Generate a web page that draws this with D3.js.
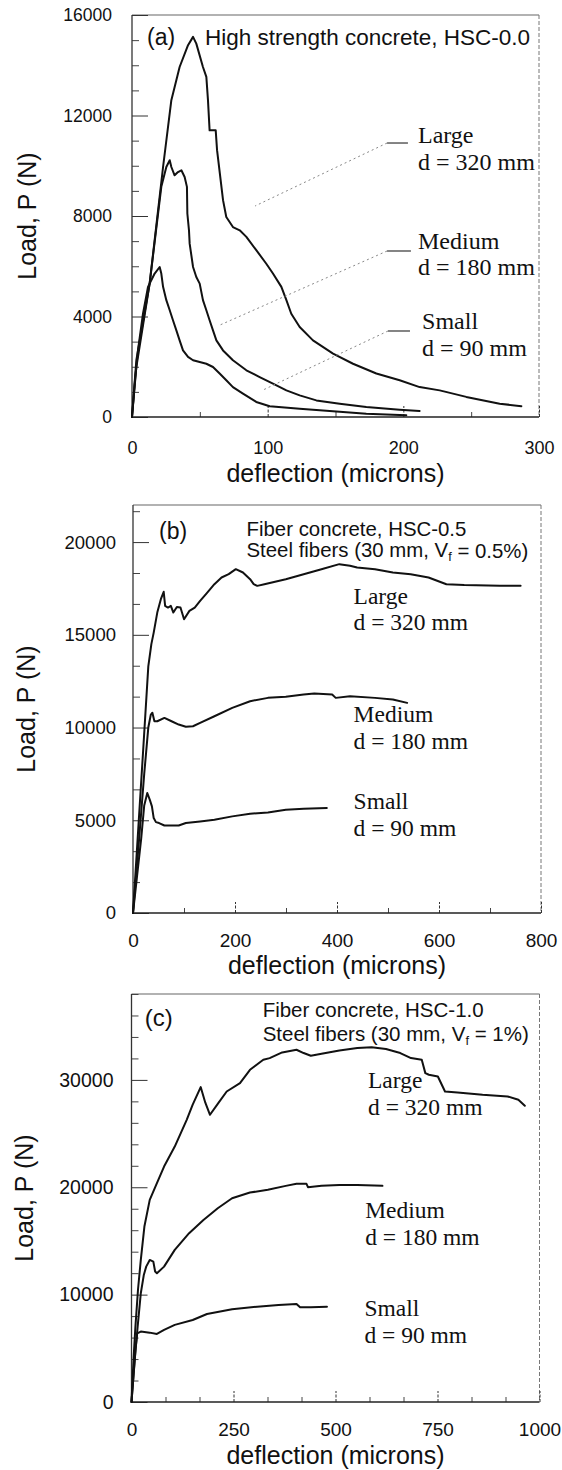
<!DOCTYPE html>
<html><head><meta charset="utf-8">
<script src="https://cdn.jsdelivr.net/npm/d3@7"></script>
<style>body{margin:0;background:#fff}svg{display:block}</style>
</head><body>
<svg id="chart" width="562" height="1470"></svg>
<script>
// ---------- DATA (deflection in microns, load in N) ----------
// Panel (a) High strength concrete, HSC-0.0
const aLarge = [[0,0],[3.2,2260],[13,5310],[22.9,9950],[29,12610],[35.1,13930],[41.3,14800],[45,15130],[47.4,14860],[52.3,13930],[54.8,13540],[56,12610],[57.2,11410],[61.7,11410],[62.7,10620],[67.1,8630],[69.5,7960],[74.4,7560],[79.4,7430],[84.3,7170],[91.6,6640],[99,6100],[103.9,5710],[110.1,5180],[113.8,4650],[117.4,4110],[123.6,3580],[133.4,3050],[148.2,2520],[162.9,2120],[180.1,1730],[197.3,1460],[212,1190],[226.8,1060],[246.4,800],[271,530],[287,430]];
const aMedium = [[0,0],[3.2,1990],[13,5310],[21.6,9160],[25.3,9950],[27.8,10220],[29,9950],[31.4,9620],[33.9,9750],[36.4,9820],[38.8,9550],[40.5,9160],[40.8,8100],[42,7430],[42.5,6900],[45,5970],[47.4,5570],[49.9,5310],[52.3,4650],[54.8,4250],[57.2,3850],[59.7,3450],[62.2,3050],[67.1,2650],[74.4,2260],[84.3,1860],[94.1,1590],[103.9,1330],[113.8,1060],[123.6,860],[135.9,660],[153.1,530],[172.7,400],[197.3,290],[212,240]];
const aSmall = [[0,0],[2,1330],[4.4,2650],[8.1,4110],[11.8,5180],[16.7,5710],[20.4,5970],[21.6,5710],[22.9,5180],[25.3,4650],[27.8,4250],[30.2,3850],[32.7,3450],[35.1,3050],[37.6,2650],[41.3,2390],[45,2260],[49.9,2190],[54.8,2120],[59.7,1990],[64.6,1730],[69.5,1460],[74.4,1190],[81.8,930],[91.6,600],[101.5,430],[123.6,330],[148.2,230],[172.7,130],[202.2,70]];
// Panel (b) Fiber concrete, HSC-0.5
const bLarge = [[0,0],[10,4400],[19.6,8630],[30,13300],[36,14500],[40.6,15120],[47.6,16200],[54.6,16920],[60.2,17320],[63,16560],[68.6,16470],[74.2,16560],[79.1,16200],[86,16500],[93.1,16470],[100.1,15840],[110.6,16290],[121.1,16470],[131.6,16830],[145.6,17280],[159.6,17730],[173.6,18090],[187.6,18270],[201.6,18540],[215.6,18360],[229.6,18000],[236.6,17730],[243.6,17640],[257.6,17730],[299.6,18000],[334.6,18270],[369.5,18540],[404.5,18810],[425.5,18720],[439.5,18630],[474.5,18540],[509.5,18360],[544.5,18270],[579.5,18090],[614.5,17730],[649.5,17680],[719.5,17640],[760,17640]];
const bMedium = [[0,0],[12,4000],[22,7500],[30,10000],[35,10700],[38,10800],[42,10340],[47.6,10340],[61.6,10520],[75.6,10340],[89.6,10160],[103.6,10040],[117.6,10070],[131.6,10250],[159.6,10610],[194.6,11060],[229.6,11420],[264.6,11600],[299.6,11660],[334.6,11780],[355.5,11840],[390.5,11780],[397.5,11600],[425.5,11690],[474.5,11600],[509.5,11510],[537.5,11330]];
const bSmall = [[0,0],[8,2000],[16,4000],[22,5800],[28,6470],[33,6100],[37.1,5750],[40.6,5120],[45,4900],[51.1,4850],[61.6,4720],[89.6,4720],[103.6,4850],[131.6,4940],[159.6,5030],[194.6,5210],[229.6,5350],[264.6,5420],[299.6,5570],[334.6,5620],[380,5660]];
// Panel (c) Fiber concrete, HSC-1.0
const cLarge = [[0,0],[5,4000],[9.6,7020],[16,10500],[22.8,13230],[31.6,16340],[44.7,18830],[62.3,20380],[79.8,21930],[106,23790],[135.3,26280],[150,27700],[169.6,29330],[180.7,27900],[192.4,26750],[212.7,27840],[233.3,28920],[265.9,29700],[290.4,30940],[323,31870],[338.6,32030],[369.3,32560],[404.4,32810],[421.9,32500],[439.5,32250],[465.8,32430],[509.6,32740],[553.5,32960],[588.6,33050],[623.7,32870],[658.8,32500],[685,32030],[711.4,31870],[720.2,30630],[728.9,30480],[750.9,30320],[768.4,28920],[799.1,28830],[860.5,28610],[921.9,28460],[948.2,28150],[964,27590]];
const cMedium = [[0,0],[8,4000],[15,7000],[22.8,10130],[30,11800],[36,12610],[44.7,13230],[53.5,13080],[57.9,12150],[62.3,11990],[79.8,12610],[106,14170],[141.2,15720],[176.3,16960],[211.4,18050],[246.5,18980],[290.3,19510],[334.2,19760],[378.1,20130],[404.4,20320],[428.9,20320],[432.5,20010],[465.8,20130],[509.6,20220],[553.5,20220],[615,20130]];
const cSmall = [[0,0],[5,2500],[10,5000],[14,6400],[22.8,6560],[44.7,6460],[62.3,6340],[79.8,6710],[106,7180],[150,7640],[185,8200],[246.5,8640],[307.9,8880],[360.5,9040],[404.4,9130],[413.2,8820],[439.5,8820],[479,8880]];

// ---------- TICKS ----------
const aXTicks = [0,100,200,300], aYTicks = [0,4000,8000,12000,16000];
const bXTicks = [0,200,400,600,800], bYTicks = [0,5000,10000,15000,20000];
const cXTicks = [0,250,500,750,1000], cYTicks = [0,10000,20000,30000];

// ---------- TEXT ----------
const sizeNames = ["Large","Medium","Small"];
const sizeDepths = ["d = 320 mm","d = 180 mm","d = 90 mm"];
const xTitle = "deflection (microns)";
const yTitle = "Load, P (N)";
const aTitle = "High strength concrete, HSC-0.0";
const bTitle = ["Fiber concrete, HSC-0.5", "Steel fibers (30 mm, V", "f", " = 0.5%)"];
const cTitle = ["Fiber concrete, HSC-1.0", "Steel fibers (30 mm, V", "f", " = 1%)"];
// label anchor positions in data units (x, y of first line, y of second line)
const aLabelPos = [[210.8,11224,10149],[210.8,7005,5970],[213.8,3821,2746]];
const bLabelPos = [[432.5,17081,15676],[432.5,10703,9243],[432.5,6000,4595]];
const cLabelPos = [[579.7,30009,27493],[572.7,17894,15377],[571,8760,6244]];
// leader lines panel (a): [label-side x0, x1, y, curve-end x, curve-end y]
const aLeaders = [[188,203.4,10905,90.7,8398],[188,205.6,6607,64.9,3662],[188.7,204.9,3423,96.6,1075]];

const SANS = "'Liberation Sans', Arial, Helvetica, sans-serif";
const SERIF = "'Liberation Serif', 'Times New Roman', serif";
const INK = "#111";
const svg = d3.select("#chart");

function drawPanel(p) {
  const x = d3.scaleLinear().domain(p.xDomain).range([p.left, p.right]);
  const y = d3.scaleLinear().domain(p.yDomain).range([p.bottom, p.top]);
  const g = svg.append("g");

  // top & right frame (light, scanned look)
  g.append("line").attr("x1", p.left).attr("x2", p.right).attr("y1", p.top).attr("y2", p.top)
    .attr("stroke", "#666").attr("stroke-width", 1.1);
  g.append("line").attr("x1", p.right).attr("x2", p.right).attr("y1", p.top).attr("y2", p.bottom)
    .attr("stroke", "#777").attr("stroke-width", 1).attr("stroke-dasharray", "4,2");

  // minor ticks
  const yMinor = d3.range(p.yDomain[0], p.yDomain[1] + 1e-6, p.yMinorStep).filter(v => !p.yTicks.some(t => Math.abs(t - v) < 1));
  const xMinor = d3.range(p.xDomain[0], p.xDomain[1] + 1e-6, p.xMinorStep).filter(v => !p.xTicks.some(t => Math.abs(t - v) < 0.5));
  g.append("g").attr("transform", `translate(${p.left},0)`)
    .call(d3.axisLeft(y).tickValues(yMinor).tickSize(-7).tickFormat(""))
    .call(a => a.select(".domain").remove())
    .selectAll("line").attr("stroke", "#444").attr("stroke-width", 1);
  g.append("g").attr("transform", `translate(0,${p.bottom})`)
    .call(d3.axisBottom(x).tickValues(xMinor).tickSize(-5).tickFormat(""))
    .call(a => a.select(".domain").remove())
    .selectAll("line").attr("stroke", "#444").attr("stroke-width", 1);

  // major ticks + labels
  const ya = g.append("g").attr("transform", `translate(${p.left},0)`)
    .call(d3.axisLeft(y).tickValues(p.yTicks).tickSize(-16).tickPadding(p.yPad).tickFormat(d3.format("d")));
  ya.select(".domain").remove();
  ya.selectAll("line").attr("stroke", "#333").attr("stroke-width", 1);
  ya.selectAll("text").attr("font-family", SANS).attr("font-size", p.yFont).attr("fill", INK);
  ya.attr("font-family", null).attr("font-size", null);

  const xa = g.append("g").attr("transform", `translate(0,${p.bottom})`)
    .call(d3.axisBottom(x).tickValues(p.xTicks).tickSize(-11).tickPadding(p.xPad).tickFormat(d3.format("d")));
  xa.select(".domain").remove();
  xa.selectAll("line").attr("stroke", "#333").attr("stroke-width", 1).attr("stroke-dasharray", "3,1.5");
  xa.selectAll("text").attr("font-family", SANS).attr("font-size", p.xFont).attr("fill", INK);
  xa.attr("font-family", null).attr("font-size", null);

  // left & bottom axis lines
  g.append("line").attr("x1", p.left).attr("x2", p.left).attr("y1", p.top).attr("y2", p.bottom)
    .attr("stroke", "#333").attr("stroke-width", 1.3);
  g.append("line").attr("x1", p.left).attr("x2", p.right).attr("y1", p.bottom).attr("y2", p.bottom)
    .attr("stroke", "#222").attr("stroke-width", 1.5);

  // axis titles
  g.append("text").attr("x", (p.left + p.right) / 2).attr("y", p.xTitleY).attr("dy", "0.35em")
    .attr("text-anchor", "middle").attr("font-family", SANS).attr("font-size", 25).attr("fill", INK).text(xTitle);
  g.append("text").attr("transform", `translate(${p.yTitleX},${(p.top + p.bottom) / 2}) rotate(-90)`)
    .attr("dy", "0.35em").attr("text-anchor", "middle").attr("font-family", SANS).attr("font-size", 25)
    .attr("fill", INK).text(yTitle);

  // curves
  const line = d3.line().x(d => x(d[0])).y(d => y(d[1]));
  p.series.forEach(s => {
    g.append("path").attr("d", line(s)).attr("fill", "none").attr("stroke", INK)
      .attr("stroke-width", 2).attr("stroke-linejoin", "round").attr("stroke-linecap", "round");
  });

  // panel letter and title
  g.append("text").attr("x", x(p.letterPos[0])).attr("y", y(p.letterPos[1])).attr("dy", "0.36em")
    .attr("font-family", SANS).attr("font-size", p.letterFont).attr("fill", INK).text(p.letter);
  p.titleLines.forEach((tl, i) => {
    const t = g.append("text").attr("x", x(p.titlePos[0])).attr("y", y(p.titlePos[1 + i])).attr("dy", "0.36em")
      .attr("font-family", SANS).attr("font-size", p.titleFont).attr("fill", INK);
    if (Array.isArray(tl)) {
      t.append("tspan").text(tl[0]);
      t.append("tspan").attr("font-size", p.titleFont * 0.62).attr("dy", "0.3em").text(tl[1]);
      t.append("tspan").attr("dy", "-0.18em").text(tl[2]);
    } else t.text(tl);
  });

  // size labels
  p.labelPos.forEach((lp, i) => {
    g.append("text").attr("x", x(lp[0])).attr("y", y(lp[1])).attr("dy", "0.33em")
      .attr("font-family", SERIF).attr("font-size", p.labelFont).attr("fill", INK).text(sizeNames[i]);
    g.append("text").attr("x", x(lp[0])).attr("y", y(lp[2])).attr("dy", "0.33em")
      .attr("font-family", SERIF).attr("font-size", p.labelFont).attr("fill", INK).text(sizeDepths[i]);
  });

  // leader lines
  (p.leaders || []).forEach(l => {
    g.append("line").attr("x1", x(l[0])).attr("x2", x(l[1])).attr("y1", y(l[2])).attr("y2", y(l[2]))
      .attr("stroke", "#333").attr("stroke-width", 1.2);
    g.append("line").attr("x1", x(l[0])).attr("x2", x(l[3])).attr("y1", y(l[2])).attr("y2", y(l[4]))
      .attr("stroke", "#888").attr("stroke-width", 1).attr("stroke-dasharray", "2,3");
  });
}

drawPanel({
  xDomain: [0, 300], yDomain: [0, 16000], left: 132, right: 539, top: 15, bottom: 417,
  xTicks: aXTicks, yTicks: aYTicks, xMinorStep: 50, yMinorStep: 1000,
  yPad: 20, xPad: 24, yFont: 17.5, xFont: 18, xTitleY: 473, yTitleX: 27,
  series: [aLarge, aMedium, aSmall],
  letter: "(a)", letterPos: [11.1, 15124], letterFont: 23,
  titleLines: [aTitle], titlePos: [53.8, 15124], titleFont: 22.5,
  labelPos: aLabelPos, labelFont: 24, leaders: aLeaders
});
drawPanel({
  xDomain: [0, 800], yDomain: [0, 22000], left: 133, right: 541, top: 505, bottom: 913,
  xTicks: bXTicks, yTicks: bYTicks, xMinorStep: 100, yMinorStep: 5000 / 3,
  yPad: 17, xPad: 21, yFont: 18.5, xFont: 19, xTitleY: 965, yTitleX: 26,
  series: [bLarge, bMedium, bSmall],
  letter: "(b)", letterPos: [51.1, 20595], letterFont: 23,
  titleLines: [bTitle[0], [bTitle[1], bTitle[2], bTitle[3]]], titlePos: [222.6, 20703, 19568], titleFont: 20.4,
  labelPos: bLabelPos, labelFont: 23.5
});
drawPanel({
  xDomain: [0, 1000], yDomain: [0, 38000], left: 131.5, right: 539.5, top: 994, bottom: 1402,
  xTicks: cXTicks, yTicks: cYTicks, xMinorStep: 250 / 3, yMinorStep: 2000,
  yPad: 18, xPad: 21, yFont: 19.5, xFont: 19, xTitleY: 1455, yTitleX: 24,
  series: [cLarge, cMedium, cSmall],
  letter: "(c)", letterPos: [32.4, 35788], letterFont: 24,
  titleLines: [cTitle[0], [cTitle[1], cTitle[2], cTitle[3]]], titlePos: [321.4, 36533, 34296], titleFont: 20.5,
  labelPos: cLabelPos, labelFont: 23.5
});
</script>
</body></html>
